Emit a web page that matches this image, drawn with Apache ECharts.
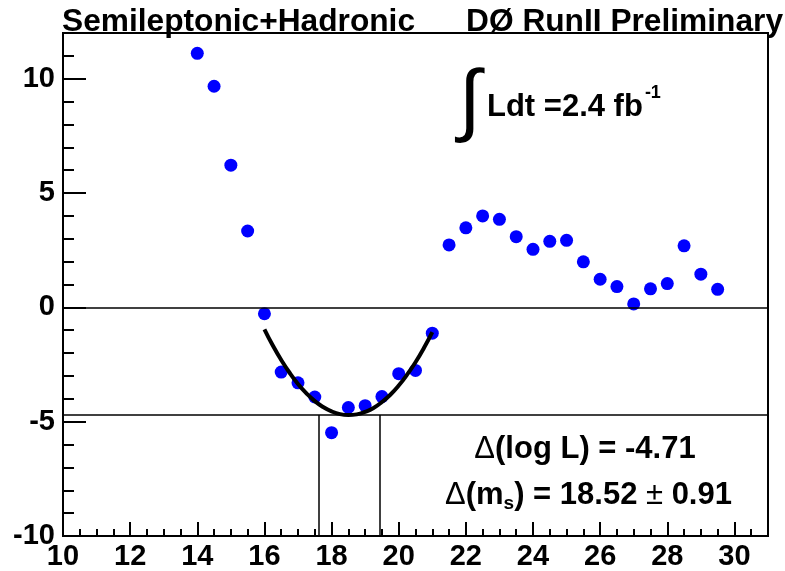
<!DOCTYPE html>
<html>
<head>
<meta charset="utf-8">
<script src="https://cdn.jsdelivr.net/npm/echarts@6/dist/echarts.min.js"></script>
<style>
html,body{margin:0;padding:0;background:#fff;}
#chart{width:785px;height:571px;}
</style>
</head>
<body>
<div id="chart"></div>
<script>
// ---- data ----
const massX = [14,14.5,15,15.5,16,16.5,17,17.5,18,18.5,19,19.5,20,20.5,21,21.5,22,22.5,23,23.5,24,24.5,25,25.5,26,26.5,27,27.5,28,28.5,29,29.5];
const deltaLogL = [11.11,9.67,6.22,3.34,-0.28,-2.83,-3.30,-3.92,-5.48,-4.38,-4.30,-3.90,-2.90,-2.76,-1.13,2.73,3.48,4.00,3.85,3.09,2.54,2.89,2.93,1.99,1.23,0.91,0.15,0.81,1.04,2.69,1.45,0.79];
const fitX = [16,16.25,16.5,16.75,17,17.25,17.5,17.75,18,18.25,18.5,18.75,19,19.25,19.5,19.75,20,20.25,20.5,20.75,21];
const fitY = [-0.96,-1.67,-2.30,-2.86,-3.35,-3.76,-4.10,-4.36,-4.55,-4.67,-4.71,-4.68,-4.57,-4.40,-4.14,-3.82,-3.42,-2.94,-2.40,-1.78,-1.08];
const minLogL = -4.71;
const errLow = 17.61, errHigh = 19.43;
const xRange = [10, 31];
const yRange = [-10, 12];
const xMajor = 2, xMinor = 0.5, yMajor = 5, yMinor = 1;
const titleLeft = 'Semileptonic+Hadronic';
const titleRight = 'DØ RunII Preliminary';
const lumiText = 'Ldt =2.4 fb';
const lumiSup = '-1';

// ---- layout helpers ----
const FF = '"Liberation Sans", Arial, Helvetica, sans-serif';
const mctx = document.createElement('canvas').getContext('2d');
function tw(s, size, weight) { mctx.font = (weight||'bold') + ' ' + size + 'px "Liberation Sans"'; return mctx.measureText(s).width; }
function txt(x, y, text, size, opts) {
  opts = opts || {};
  return { type: 'text', x: x, y: y, z: 100, silent: true,
    style: { text: text, fontSize: size, fontWeight: opts.weight || 'bold', fontFamily: FF, fill: '#000',
      align: opts.align || 'left', verticalAlign: 'middle', textAlign: opts.align || 'left', textVerticalAlign: 'middle' } };
}
// sequence of text pieces laid out left to right from x0
function seq(x0, pieces) {
  const out = []; let x = x0;
  pieces.forEach(p => {
    out.push(txt(x, p.y, p.t, p.s, { weight: p.w || 'bold' }));
    x += tw(p.t, p.s, p.w || 'bold');
  });
  return out;
}
const FS = 29, TS = 31.7, BS = 31;
const lumiW = tw(lumiText, BS);
const y1 = 449, y2 = 495;
const line1W = tw('Δ', BS, 'normal') + tw('(log L) = -4.71', BS);

const chart = echarts.init(document.getElementById('chart'));
const gridTop = 33, gridLeft = 63, gridRight = 17, gridBottom = 34;
chart.setOption({
  animation: false,
  backgroundColor: '#fff',
  grid: { left: gridLeft, right: gridRight, top: gridTop, bottom: gridBottom, show: true, borderColor: '#000', borderWidth: 2, backgroundColor: 'transparent' },
  xAxis: [
    { type: 'value', min: xRange[0], max: xRange[1], interval: xMajor, position: 'bottom',
      axisLine: { show: true, onZero: false, lineStyle: { color: '#000', width: 2 } },
      axisTick: { show: true, inside: true, length: 14, lineStyle: { color: '#000', width: 2 } },
      axisLabel: { show: true, showMaxLabel: false, margin: 6, color: '#000', fontSize: FS, fontWeight: 'bold', fontFamily: FF,
        formatter: v => (Math.abs(v % xMajor) < 1e-9 ? String(v) : '') },
      splitLine: { show: false } },
    { type: 'value', min: xRange[0], max: xRange[1], interval: xMinor, position: 'bottom', offset: 0,
      axisLine: { show: false, onZero: false }, axisLabel: { show: false }, splitLine: { show: false },
      axisTick: { show: true, inside: true, length: 7, lineStyle: { color: '#000', width: 2 } } }
  ],
  yAxis: [
    { type: 'value', min: yRange[0], max: yRange[1], interval: yMajor, position: 'left',
      axisLine: { show: true, onZero: false, lineStyle: { color: '#000', width: 2 } },
      axisTick: { show: true, inside: true, length: 23, lineStyle: { color: '#000', width: 2 } },
      axisLabel: { show: true, showMaxLabel: false, margin: 8, color: '#000', fontSize: FS, fontWeight: 'bold', fontFamily: FF,
        formatter: v => (Math.abs(v % yMajor) < 1e-9 ? String(v) : '') },
      splitLine: { show: false } },
    { type: 'value', min: yRange[0], max: yRange[1], interval: yMinor, position: 'left', offset: 0,
      axisLine: { show: false, onZero: false }, axisLabel: { show: false }, splitLine: { show: false },
      axisTick: { show: true, inside: true, length: 11, lineStyle: { color: '#000', width: 2 } } }
  ],
  series: [
    { type: 'scatter', xAxisIndex: 0, yAxisIndex: 0, symbol: 'circle', symbolSize: 13, z: 3,
      itemStyle: { color: '#0000ff', opacity: 1 },
      data: massX.map((x, i) => [x, deltaLogL[i]]) },
    { type: 'line', xAxisIndex: 0, yAxisIndex: 0, showSymbol: false, symbol: 'none', smooth: true, z: 4,
      lineStyle: { color: '#000', width: 4 },
      data: fitX.map((x, i) => [x, fitY[i]]),
      markLine: { silent: true, symbol: ['none', 'none'], label: { show: false }, animation: false,
        lineStyle: { color: '#000', width: 1.5, type: 'solid' },
        data: [
          { yAxis: 0 },
          { yAxis: minLogL },
          [{ coord: [errLow, yRange[0]] }, { coord: [errLow, minLogL] }],
          [{ coord: [errHigh, yRange[0]] }, { coord: [errHigh, minLogL] }]
        ] } }
  ],
  graphic: [
    txt(62, 22, titleLeft, TS),
    txt(783, 22, titleRight, TS, { align: 'right' }),
    txt(459, 104, '∫', 80, { weight: 'normal' }),
    txt(487, 107.5, lumiText, BS),
    txt(487 + lumiW + 2, 93, lumiSup, 18)
  ].concat(
    seq(585 - line1W / 2, [
      { t: 'Δ', s: BS, w: 'normal', y: y1 },
      { t: '(log L) = -4.71', s: BS, y: y1 }
    ]),
    seq(445, [
      { t: 'Δ', s: BS, w: 'normal', y: y2 },
      { t: '(m', s: BS, y: y2 },
      { t: 's', s: 19, y: y2 + 9 },
      { t: ') = 18.52 ', s: BS, y: y2 },
      { t: '±', s: BS, w: 'normal', y: y2 },
      { t: ' 0.91', s: BS, y: y2 }
    ])
  )
});
</script>
</body>
</html>
